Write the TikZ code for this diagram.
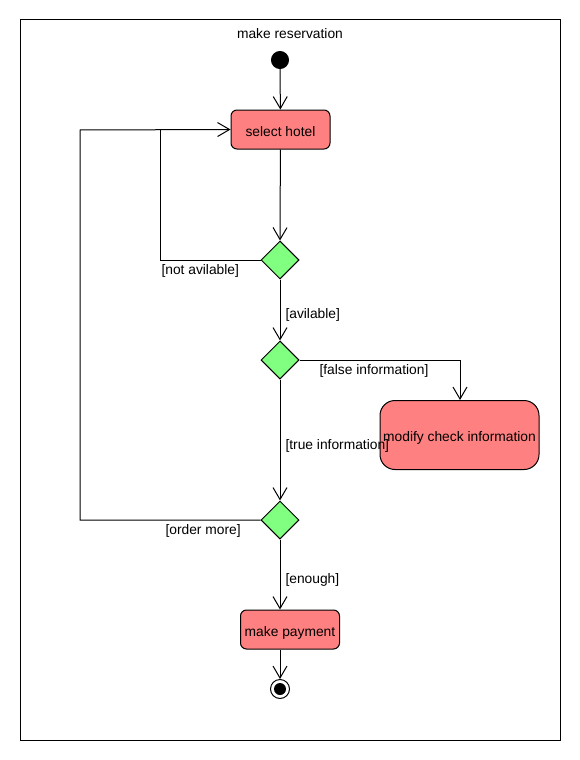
\documentclass[tikz,border=0pt]{standalone}
\usepackage{fontspec}
\setmainfont{Liberation Sans}
\usetikzlibrary{arrows.meta,shapes.geometric}
\definecolor{actfill}{HTML}{FF8080}
\definecolor{decfill}{HTML}{80FF80}
\begin{document}
\begin{tikzpicture}[x=1pt,y=-1pt,line width=1pt,
  font=\fontsize{13.8}{16}\selectfont,
  >={Straight Barb[length=12pt,width=14pt,line width=1pt]},
  act/.style={draw,fill=actfill,rounded corners=6pt,inner sep=0pt,text height=13pt,text depth=0pt},
  dec/.style={draw,fill=decfill,diamond,inner sep=0pt,minimum width=38pt,minimum height=38pt},
  lbl/.style={anchor=west,inner sep=0pt,text height=9pt,text depth=2pt},
  flow/.style={->}]
\useasboundingbox (0,0) rectangle (580,760);
\fill[white] (0,0) rectangle (580,760);
\node[draw,minimum width=540pt,minimum height=720pt,inner sep=0pt] (frame) at (290,380) {};
\node[text height=9pt,text depth=2pt] (title) at (290,35) {make reservation};
\node[circle,fill=black,draw,minimum size=17pt,inner sep=0pt] (start) at (280,60) {};
\node[act,minimum width=99pt,minimum height=39pt] (select) at (280.5,129.5) {select hotel};
\node[dec] (d1) at (280,260) {};
\node[dec] (d2) at (280,360) {};
\node[act,rounded corners=15pt,minimum width=159pt,minimum height=69pt] (modify) at (459.5,435) {modify check information};
\node[dec] (d3) at (280,520) {};
\node[act,minimum width=99pt,minimum height=39pt] (pay) at (290,629.5) {make payment};
\node[circle,draw,fill=white,minimum size=19pt,inner sep=0pt] (end) at (280,689) {};
\node[circle,fill=black,minimum size=12pt,inner sep=0pt] (endin) at (280,689) {};
\coordinate (c1a) at (160,260);
\coordinate (c1b) at (160,130);
\coordinate (c3a) at (80,520);
\coordinate (c3b) at (80,130);
\coordinate (c2a) at (460,360);
\draw[flow] (start) -- (select);
\draw[flow] (select) -- (d1.north);
\draw (d1.west) -- (c1a) -- (c1b);
\draw[flow] (d3.west) -- (c3a) -- (c3b) -- (select.west);
\draw[flow] (d1.south) -- (d2.north);
\draw[flow] (d2.east) -- (c2a) -- (modify.north -| c2a);
\draw[flow] (d2.south) -- (d3.north);
\draw[flow] (d3.south) -- (pay.north -| d3.south);
\draw[flow] (pay.south -| end.north) -- (end.north);
\node[lbl] (l1) at (161,271) {[not avilable]};
\node[lbl] (l2) at (285,315) {[avilable]};
\node[lbl] (l3) at (319,371) {[false information]};
\node[lbl] (l4) at (285,446) {[true information]};
\node[lbl] (l5) at (165,531) {[order more]};
\node[lbl] (l6) at (285,580) {[enough]};
\end{tikzpicture}
\end{document}
